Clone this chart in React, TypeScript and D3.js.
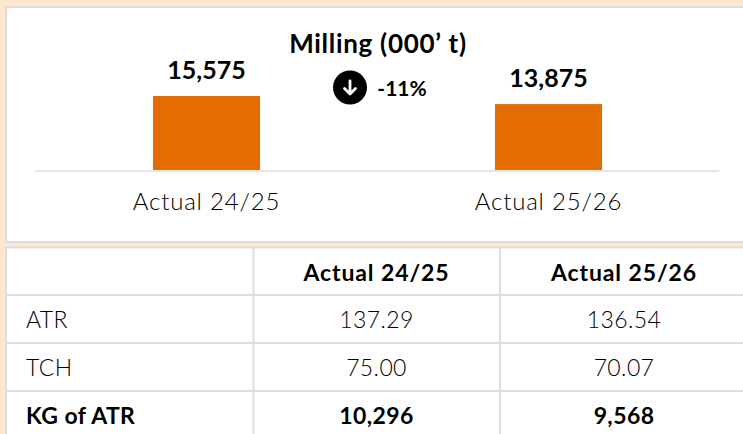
import React from "react";
import * as d3 from "d3";

const categories = ["Actual 24/25", "Actual 25/26"];
const milling = [15575, 13875];
const chartTitle = "Milling (000’ t)";
const changeLabel = "-11%";
const rowLabels = ["ATR", "TCH", "KG of ATR"];
const actual2425 = ["137.29", "75.00", "10,296"];
const actual2526 = ["136.54", "70.07", "9,568"];

const FONT = "Lato, 'Open Sans', sans-serif";
const GREY = "#dedede";
const ORANGE = "#e46c00";
const PEACH = "#ffe6d0";

export default function App() {
  const x = d3.scaleBand<string>().domain(categories).range([35.5, 719.5]).paddingInner(0.687).paddingOuter(0.3435);
  const y = d3.scaleLinear().domain([0, 15575]).range([170, 96]);
  const fmt = d3.format(",");

  const colX = [6, 253.5, 500];
  const rowY = [247.5, 295, 343, 391];
  const labelY = [328, 376, 424];
  const colCentre = [376.5, 624];

  return (
    <svg width={743} height={434} style={{ position: "absolute", left: 0, top: 0 }} fontFamily={FONT} fill="#000">
      <rect width={743} height={434} fill={PEACH} />
      <rect x={6} y={7} width={745} height={235} fill="#fff" stroke={GREY} strokeWidth={2} />
      <rect x={6} y={247} width={745} height={195} fill="#fff" />

      {categories.map((c, i) => (
        <g key={c}>
          <rect x={x(c)} y={y(milling[i])} width={x.bandwidth()} height={y(0) - y(milling[i])} fill={ORANGE} />
          <text x={x(c)! + x.bandwidth() / 2} y={y(milling[i]) - 17} textAnchor="middle" fontWeight={700} fontSize={25}>
            {fmt(milling[i])}
          </text>
          <text x={x(c)! + x.bandwidth() / 2} y={210} textAnchor="middle" fontSize={24} fontWeight={300} letterSpacing={0.8}>
            {c}
          </text>
        </g>
      ))}
      <line x1={35} x2={719} y1={171} y2={171} stroke={GREY} strokeWidth={1.5} />

      <text x={378} y={53} textAnchor="middle" fontWeight={700} fontSize={26} letterSpacing={0.7}>{chartTitle}</text>
      <circle cx={350} cy={87.5} r={17} fill="#000" />
      <path d="M350 81V94M344.5 88.5L350 94L355.5 88.5" stroke="#fff" strokeWidth={2.8} fill="none" strokeLinecap="round" strokeLinejoin="round" />
      <text x={402} y={95.5} textAnchor="middle" fontWeight={700} fontSize={21}>{changeLabel}</text>

      {rowY.map((v) => (
        <line key={v} x1={6} x2={743} y1={v} y2={v} stroke={GREY} strokeWidth={2} />
      ))}
      {colX.map((v) => (
        <line key={v} x1={v} x2={v} y1={247} y2={434} stroke={GREY} strokeWidth={2} />
      ))}

      {categories.map((c, i) => (
        <text key={c} x={colCentre[i]} y={281} textAnchor="middle" fontWeight={700} fontSize={23} letterSpacing={0.9}>{c}</text>
      ))}
      {rowLabels.map((r, i) => {
        const bold = i === 2;
        return (
          <g key={r} fontSize={bold ? 23 : 23} fontWeight={bold ? 700 : 300} letterSpacing={0.4}>
            <text x={26} y={labelY[i]}>{r}</text>
            <text x={colCentre[0]} y={labelY[i]} textAnchor="middle">{actual2425[i]}</text>
            <text x={colCentre[1]} y={labelY[i]} textAnchor="middle">{actual2526[i]}</text>
          </g>
        );
      })}
    </svg>
  );
}
